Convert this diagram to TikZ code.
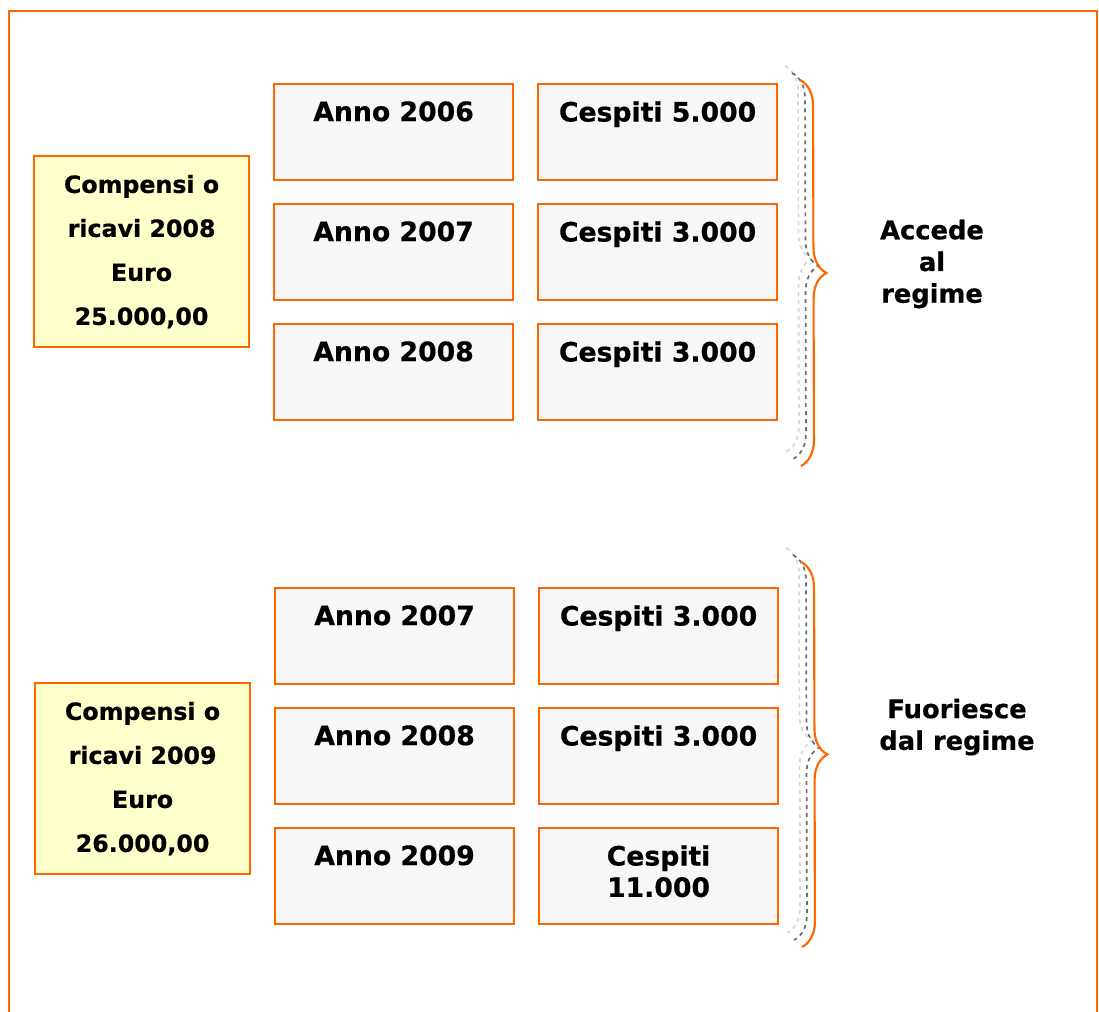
\documentclass[tikz,border=0pt]{standalone}
\usepackage{fontspec}
\setmainfont[BoldFeatures={FakeBold=0.6}]{DejaVu Sans}
\usetikzlibrary{decorations.pathreplacing}
\definecolor{frameorange}{RGB}{255,102,0}
\definecolor{yearfill}{RGB}{247,247,247}
\definecolor{sumfill}{RGB}{255,255,204}
\definecolor{shadowdark}{RGB}{110,110,110}
\definecolor{shadowlight}{RGB}{215,215,215}

\begin{document}
\begin{tikzpicture}[x=0.75pt,y=-0.75pt,
  yearbox/.style={draw=frameorange,fill=yearfill,line width=1.6pt,anchor=north west,
    minimum width=179.25pt,minimum height=72pt,inner sep=0pt,label={[boxtext]north:#1}},
  boxtext/.style={anchor=north,yshift=-13.5pt,inner sep=0pt,align=center,
    font=\bfseries\fontsize{20}{23.5}\selectfont},
  sumbox/.style={draw=frameorange,fill=sumfill,line width=1.6pt,anchor=north west,
    minimum width=161.25pt,minimum height=143.25pt,align=center,
    font=\bfseries\fontsize{17.8}{33}\selectfont},
  verdict/.style={align=center,font=\bfseries\fontsize{19.3}{23.8}\selectfont},
  bracedeco/.style={decorate,decoration={brace,amplitude=19.5pt}}]
  \useasboundingbox (0,0) rectangle (1099,1012);
  \draw[frameorange,line width=1.6pt] (9,1020) -- (9,11) -- (1097,11) -- (1097,1020);

  % 2008
  \node[sumbox] (sum8) at (33,155) {Compensi o\\ricavi 2008\\Euro\\25.000,00};
  \node[yearbox=Anno 2006] (y06) at (273,83) {};
  \node[yearbox=Anno 2007] (y07) at (273,203) {};
  \node[yearbox=Anno 2008] (y08) at (273,323) {};
  \node[yearbox=Cespiti 5.000] (c06) at (537,83) {};
  \node[yearbox=Cespiti 3.000] (c07) at (537,203) {};
  \node[yearbox=Cespiti 3.000] (c08) at (537,323) {};

  \coordinate (bt1) at (800,80);
  \coordinate (bb1) at (801,466);
  \draw[bracedeco,shadowlight,dashed,line width=1.3pt] ([shift={(-15,-14)}]bt1) -- ([shift={(-15,-14)}]bb1);
  \draw[bracedeco,shadowdark,dashed,line width=1.3pt] ([shift={(-8,-7)}]bt1) -- ([shift={(-8,-7)}]bb1);
  \draw[bracedeco,frameorange,line width=1.6pt] (bt1) -- (bb1);
  \node[verdict] (acc) at (932,264) {Accede\\al\\regime};

  % 2009
  \node[sumbox] (sum9) at (34,682) {Compensi o\\ricavi 2009\\Euro\\26.000,00};
  \node[yearbox=Anno 2007] (z07) at (274,587) {};
  \node[yearbox=Anno 2008] (z08) at (274,707) {};
  \node[yearbox=Anno 2009] (z09) at (274,827) {};
  \node[yearbox=Cespiti 3.000] (d07) at (538,587) {};
  \node[yearbox=Cespiti 3.000] (d08) at (538,707) {};
  \node[yearbox={Cespiti\\11.000}] (d09) at (538,827) {};

  \coordinate (bt2) at (801,562);
  \coordinate (bb2) at (802,947);
  \draw[bracedeco,shadowlight,dashed,line width=1.3pt] ([shift={(-15,-14)}]bt2) -- ([shift={(-15,-14)}]bb2);
  \draw[bracedeco,shadowdark,dashed,line width=1.3pt] ([shift={(-8,-7)}]bt2) -- ([shift={(-8,-7)}]bb2);
  \draw[bracedeco,frameorange,line width=1.6pt] (bt2) -- (bb2);
  \node[verdict] (out) at (957,727) {Fuoriesce\\dal regime};
\end{tikzpicture}
\end{document}
